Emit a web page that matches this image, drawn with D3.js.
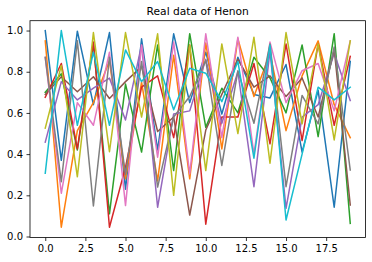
<!DOCTYPE html>
<html>
<head>
<meta charset="utf-8">
<script src="https://cdn.jsdelivr.net/npm/d3@7"></script>
<style>
  body { margin: 0; background: #fff; }
  svg { display: block; font-family: "DejaVu Sans", sans-serif; }
</style>
</head>
<body>
<svg id="chart"></svg>
<script>
// 20 steps, one series per tab10 colour
var steps = d3.range(20);
var xTicks = [0, 2.5, 5, 7.5, 10, 12.5, 15, 17.5];
var yTicks = [0, 0.2, 0.4, 0.6, 0.8, 1.0];

var blue   = [1.0, 0.37, 0.997, 0.64, 0.99, 0.23, 0.96, 0.42, 0.984, 0.65, 0.895, 0.595, 0.87, 0.69, 0.673, 0.835, 0.41, 0.71, 0.142, 0.85];
var orange = [0.95, 0.045, 0.514, 0.65, 0.854, 0.28, 0.75, 0.27, 0.88, 0.28, 0.94, 0.425, 0.96, 0.68, 0.89, 0.514, 0.78, 0.95, 0.64, 0.48];
var green  = [0.70, 0.79, 0.42, 0.935, 0.11, 0.74, 0.41, 0.93, 0.32, 0.985, 0.53, 0.72, 0.60, 0.87, 0.77, 0.60, 0.93, 0.485, 0.985, 0.064];
var red    = [0.676, 0.84, 0.425, 0.944, 0.045, 0.336, 0.725, 0.78, 0.48, 0.93, 0.06, 0.58, 0.58, 0.84, 0.45, 0.935, 0.466, 0.935, 0.54, 0.875];
var purple = [0.458, 0.752, 0.663, 0.72, 0.769, 0.566, 0.93, 0.142, 0.595, 0.61, 0.86, 0.55, 0.80, 0.242, 0.90, 0.137, 0.58, 0.64, 0.89, 0.66];
var brown  = [0.69, 0.776, 0.703, 0.776, 0.67, 0.752, 0.825, 0.51, 0.58, 0.104, 0.517, 0.69, 0.86, 0.725, 0.78, 0.68, 0.77, 0.58, 0.91, 0.153];
var pink   = [0.87, 0.21, 0.65, 0.54, 0.895, 0.15, 0.93, 0.385, 0.944, 0.304, 0.984, 0.48, 0.968, 0.40, 0.944, 0.65, 0.805, 0.84, 0.61, 0.95];
var gray   = [0.87, 0.266, 0.95, 0.148, 0.87, 0.30, 0.85, 0.24, 0.58, 0.68, 0.855, 0.345, 0.805, 0.55, 0.935, 0.242, 0.685, 0.547, 0.92, 0.323];
var olive  = [0.526, 0.83, 0.29, 0.99, 0.412, 0.99, 0.58, 0.984, 0.2, 0.93, 0.32, 0.935, 0.5, 0.968, 0.356, 0.99, 0.547, 0.935, 0.469, 0.95];
var cyan   = [0.307, 1.0, 0.54, 0.895, 0.54, 0.906, 0.752, 0.85, 0.615, 0.817, 0.793, 0.655, 0.85, 0.38, 0.93, 0.08, 0.40, 0.725, 0.663, 0.725];

var series = [blue, orange, green, red, purple, brown, pink, gray, olive, cyan];
var colors = d3.schemeCategory10;

var width = 372, height = 262;
var plotLeft = 30, plotRight = 365.5, plotTop = 20.7, plotBottom = 237.5;

var svg = d3.select("#chart").attr("width", width).attr("height", height);

// matplotlib style 5% margins
var xscale = d3.scaleLinear().domain([-0.95, 19.95]).range([plotLeft, plotRight]);
var yscale = d3.scaleLinear().domain([-0.0048, 1.0478]).range([plotBottom, plotTop]);

var line = d3.line()
    .x(function(d, i) { return xscale(steps[i]); })
    .y(function(d) { return yscale(d); });

svg.append("g").selectAll("path").data(series).enter().append("path")
    .attr("d", line)
    .attr("fill", "none")
    .attr("stroke", function(d, i) { return colors[i]; })
    .attr("stroke-width", 1.5)
    .attr("stroke-linejoin", "round")
    .attr("stroke-linecap", "square");

var x_axis = d3.axisBottom(xscale).tickValues(xTicks)
    .tickFormat(d3.format(".1f")).tickSize(3.5).tickPadding(3.5).tickSizeOuter(0);
var y_axis = d3.axisLeft(yscale).tickValues(yTicks)
    .tickFormat(d3.format(".1f")).tickSize(3.5).tickPadding(3.5).tickSizeOuter(0);

var gx = svg.append("g").attr("transform", "translate(0," + plotBottom + ")").call(x_axis);
var gy = svg.append("g").attr("transform", "translate(" + plotLeft + ",0)").call(y_axis);
[gx, gy].forEach(function(g) {
  g.select(".domain").remove();
  g.selectAll("line").attr("stroke", "#000").attr("stroke-width", 0.8);
  g.selectAll("text").attr("fill", "#000").style("font-size", "10px")
    .style("font-family", "DejaVu Sans");
});

// frame
svg.append("rect")
    .attr("x", plotLeft).attr("y", plotTop)
    .attr("width", plotRight - plotLeft).attr("height", plotBottom - plotTop)
    .attr("fill", "none").attr("stroke", "#000").attr("stroke-width", 0.8);

svg.append("text")
    .attr("x", (plotLeft + plotRight) / 2).attr("y", 15)
    .attr("text-anchor", "middle")
    .style("font-size", "10.7px")
    .text("Real data of Henon");
</script>
</body>
</html>
